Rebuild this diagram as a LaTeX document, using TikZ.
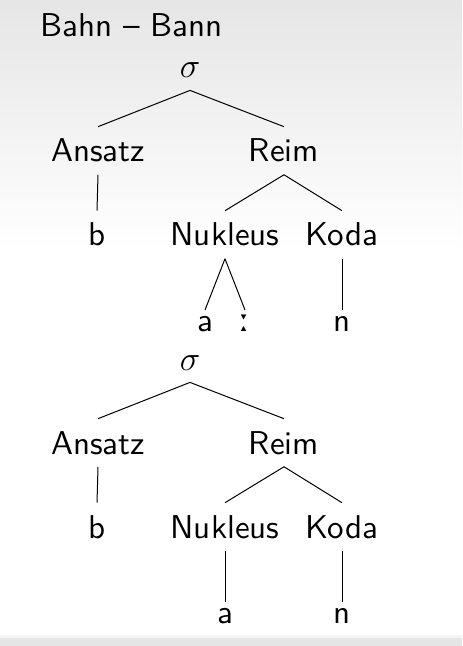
\documentclass[tikz,border=0pt]{standalone}
\usepackage{fontspec}
\setsansfont{lmsans10-regular.otf}
\newfontfamily\ipafont{DejaVu Sans}
\begin{document}
\begin{tikzpicture}[x=.5pt, y=-.5pt, font=\sffamily\fontsize{16.5}{20}\selectfont,
  every node/.style={anchor=base, inner sep=6pt}, kurz/.style={text height=1ex}, ast/.style={line width=.5pt}]
\useasboundingbox (0,0) rectangle (462,646);
\shade[top color=black!10, bottom color=white] (0,0) rectangle (462,250);
\fill[black!4] (0,635) rectangle (462,638);
\fill[black!10] (0,638) rectangle (462,646);
\node[anchor=base west, inner sep=0pt] (titel) at (40,37) {Bahn -- Bann};

\node (s1) at (190,78) {$\sigma$};
\node (ans1) at (98,162) {Ansatz};\node (reim1) at (284,162) {Reim};
\node (b1) at (97,246) {b};\node (nuk1) at (225,246) {Nukleus};\node (koda1) at (342,246) {Koda};
\node[kurz] (a1) at (205,331) {a};\node[kurz] (lang1) at (245,331) {\ipafont\fontsize{16}{18}\selectfont ː};
\node[kurz] (n1) at (342,331) {n};
\draw[ast] (s1.south) -- (ans1.north);\draw[ast] (s1.south) -- (reim1.north);
\draw[ast] (ans1.south) -- (b1.north);
\draw[ast] (reim1.south) -- (nuk1.north);\draw[ast] (reim1.south) -- (koda1.north);
\draw[ast] (nuk1.south) -- (a1.north);\draw[ast] (nuk1.south) -- (lang1.north);
\draw[ast] (koda1.south) -- (n1.north);

\node (s2) at (190,370) {$\sigma$};
\node (ans2) at (98,454) {Ansatz};\node (reim2) at (284,454) {Reim};
\node (b2) at (97,538) {b};\node (nuk2) at (225,538) {Nukleus};\node (koda2) at (342,538) {Koda};
\node[kurz] (a2) at (225,623) {a};\node[kurz] (n2) at (342,623) {n};
\draw[ast] (s2.south) -- (ans2.north);\draw[ast] (s2.south) -- (reim2.north);
\draw[ast] (ans2.south) -- (b2.north);
\draw[ast] (reim2.south) -- (nuk2.north);\draw[ast] (reim2.south) -- (koda2.north);
\draw[ast] (nuk2.south) -- (a2.north);
\draw[ast] (koda2.south) -- (n2.north);

\end{tikzpicture}
\end{document}
